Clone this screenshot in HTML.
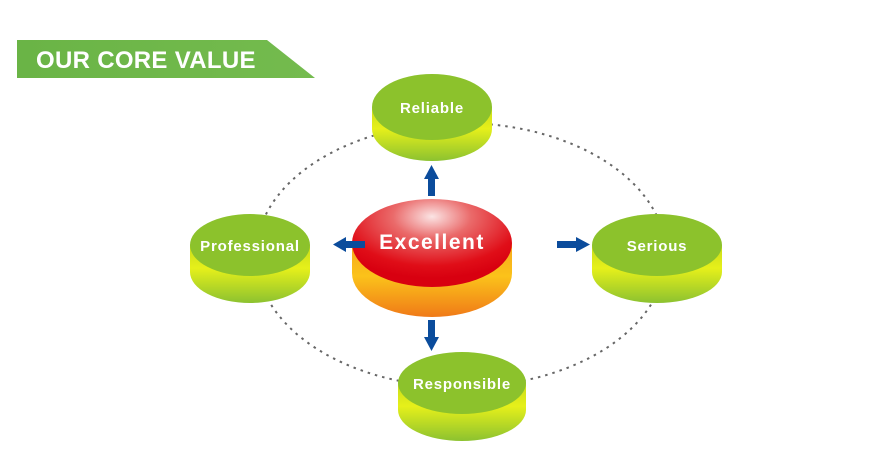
<!DOCTYPE html>
<html><head><meta charset="utf-8"><style>
html,body{margin:0;padding:0;background:#fff}
svg{display:block}
text{font-family:"Liberation Sans",sans-serif;font-weight:bold;fill:#fff}
</style></head><body>
<svg width="872" height="451" viewBox="0 0 872 451" xmlns="http://www.w3.org/2000/svg">
<defs>
<linearGradient id="gside" x1="0" y1="0" x2="0" y2="1">
<stop offset="0" stop-color="#c8dc1a"/><stop offset="0.4" stop-color="#e6f01a"/><stop offset="1" stop-color="#8cc230"/>
</linearGradient>
<linearGradient id="oside" x1="0" y1="0" x2="0" y2="1">
<stop offset="0" stop-color="#f6a81c"/><stop offset="0.45" stop-color="#fbc21a"/><stop offset="1" stop-color="#f07a18"/>
</linearGradient>
<radialGradient id="red" cx="0.5" cy="0.2" r="0.7">
<stop offset="0" stop-color="#fbe4e4"/><stop offset="0.35" stop-color="#ea6a6a"/><stop offset="0.8" stop-color="#e00e18"/><stop offset="1" stop-color="#d80010"/>
</radialGradient>
<linearGradient id="ban" x1="0" y1="0" x2="1" y2="0">
<stop offset="0" stop-color="#6ab446"/><stop offset="1" stop-color="#74bb4e"/>
</linearGradient>
</defs>
<polygon points="17,40 267,40 315,78 17,78" fill="url(#ban)"/>
<text x="36" y="68" font-size="24" letter-spacing="0.3">OUR CORE VALUE</text>

<ellipse cx="461" cy="255" rx="205" ry="132" fill="none" stroke="#666" stroke-width="2" stroke-dasharray="2.5,5"/>

<!-- Reliable -->
<path d="M372,107 v22 a60,32 0 0 0 120,0 v-22 z" fill="url(#gside)"/>
<ellipse cx="432" cy="107" rx="60" ry="33" fill="#8cc22c"/>
<text x="432" y="113" font-size="15" text-anchor="middle" letter-spacing="0.8">Reliable</text>
<!-- Professional -->
<path d="M190,245 v27 a60,31 0 0 0 120,0 v-27 z" fill="url(#gside)"/>
<ellipse cx="250" cy="245" rx="60" ry="31" fill="#8cc22c"/>
<text x="250" y="251" font-size="15" text-anchor="middle" letter-spacing="0.8">Professional</text>
<!-- Serious -->
<path d="M592,245 v27 a65,31 0 0 0 130,0 v-27 z" fill="url(#gside)"/>
<ellipse cx="657" cy="245" rx="65" ry="31" fill="#8cc22c"/>
<text x="657" y="251" font-size="15" text-anchor="middle" letter-spacing="0.8">Serious</text>
<!-- Responsible -->
<path d="M398,383 v27 a64,31 0 0 0 128,0 v-27 z" fill="url(#gside)"/>
<ellipse cx="462" cy="383" rx="64" ry="31" fill="#8cc22c"/>
<text x="462" y="389" font-size="15" text-anchor="middle" letter-spacing="0.8">Responsible</text>
<!-- Excellent -->
<path d="M352,243 v30 a80,44 0 0 0 160,0 v-30 z" fill="url(#oside)"/>
<ellipse cx="432" cy="243" rx="80" ry="44" fill="url(#red)"/>
<text x="432" y="249" font-size="21" text-anchor="middle" letter-spacing="1.5">Excellent</text>

<g fill="#0b4c9c">
<rect x="428" y="178" width="7" height="18"/><polygon points="424,179 439,179 431.5,165"/>
<rect x="428" y="320" width="7" height="18"/><polygon points="424,337 439,337 431.5,351"/>
<rect x="345" y="241" width="20" height="7"/><polygon points="346,237 346,252 333,244.5"/>
<rect x="557" y="241" width="20" height="7"/><polygon points="576,237 576,252 590,244.5"/>
</g>
</svg>
</body></html>
